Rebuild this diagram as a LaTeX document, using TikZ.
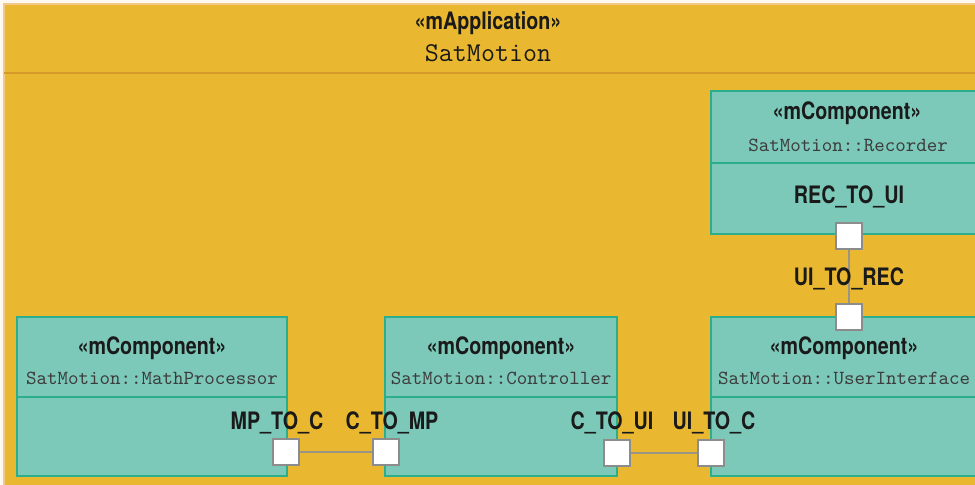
\documentclass[tikz,border=0pt]{standalone}
\usepackage{fontspec}
\usetikzlibrary{positioning}
\newfontfamily\stereofont[FakeStretch=0.82]{TeX Gyre Heros}
\definecolor{paper}{HTML}{FDF8F0}
\definecolor{appfill}{HTML}{E9B830}
\definecolor{appedge}{HTML}{F3C98A}
\definecolor{headline}{HTML}{D69A2A}
\definecolor{compfill}{HTML}{7CC9BA}
\definecolor{compedge}{HTML}{2BAE8C}
\definecolor{portedge}{HTML}{8C8C8C}
\definecolor{connline}{HTML}{9A9484}
\definecolor{ink}{HTML}{1A1A1A}
\tikzset{
  comp/.style={draw=compedge, fill=compfill, line width=1pt},
  stereo/.style={font=\stereofont\bfseries\fontsize{12}{14}\selectfont, text=ink, inner sep=0pt},
  cname/.style={font=\ttfamily\fontsize{10}{12}\selectfont, text=ink!85, inner sep=0pt},
  port/.style={draw=portedge, fill=white, line width=0.8pt, minimum size=13pt, inner sep=0pt},
  conn/.style={draw=connline, line width=1pt},
  plabel/.style={stereo}
}

\begin{document}
\begin{tikzpicture}[x=0.5pt, y=-0.5pt]
  \useasboundingbox (0,0) rectangle (975,485);
  \fill[paper] (0,0) rectangle (975,485);
  \clip (0,0) rectangle (975,485);

  % application frame and its header
  \filldraw[fill=appfill, draw=appedge, line width=1.2pt] (4,4) rectangle (990,495);
  \draw[headline, line width=1.2pt] (4,73) -- (990,73);
  \node[stereo] (appst) at (488,23) {«mApplication»};
  \node[font=\ttfamily\fontsize{13.6}{16}\selectfont, text=ink, inner sep=0pt] (appnm) at (488,53) {SatMotion};

  % bottom row of components
  \foreach \id/\l/\r/\cls in {mp/17/287/MathProcessor, ctl/385/617/Controller, ui/711/977/UserInterface}{
    \draw[comp] (\l,317) rectangle (\r,476);
    \draw[compedge, line width=1pt] (\l,397) -- (\r,397);
    \node[stereo] (\id-st) at ({(\l+\r)/2},348) {«mComponent»};
    \node[cname] (\id-nm) at ({(\l+\r)/2},378) {SatMotion::\cls};
  }

  % recorder
  \draw[comp] (711,91) rectangle (987,234);
  \draw[compedge, line width=1pt] (711,163) -- (987,163);
  \node[stereo] (rec-st) at (847,113) {«mComponent»};
  \node[cname] (rec-nm) at (848,145) {SatMotion::Recorder};

  % ports
  \node[port] (recp) at (849,236) {};
  \node[port] (uip) at (849,317) {};
  \node[port] (mpp) at (286,452) {};
  \node[port] (cmpp) at (386,452) {};
  \node[port] (cuip) at (617,453) {};
  \node[port] (uicp) at (711,453) {};

  % links
  \draw[conn] (recp) -- (uip);
  \draw[conn] (mpp) -- (cmpp);
  \draw[conn] (cuip) -- (uicp);

  % port names
  \node[plabel] (recl) at (849,197) {REC\_TO\_UI};
  \node[plabel] (uirl) at (849,279) {UI\_TO\_REC};
  \node[plabel] (mpl) at (277,423) {MP\_TO\_C};
  \node[plabel] (cmpl) at (392,423) {C\_TO\_MP};
  \node[plabel] (cuil) at (612,423) {C\_TO\_UI};
  \node[plabel] (uicl) at (714,423) {UI\_TO\_C};
\end{tikzpicture}
\end{document}
